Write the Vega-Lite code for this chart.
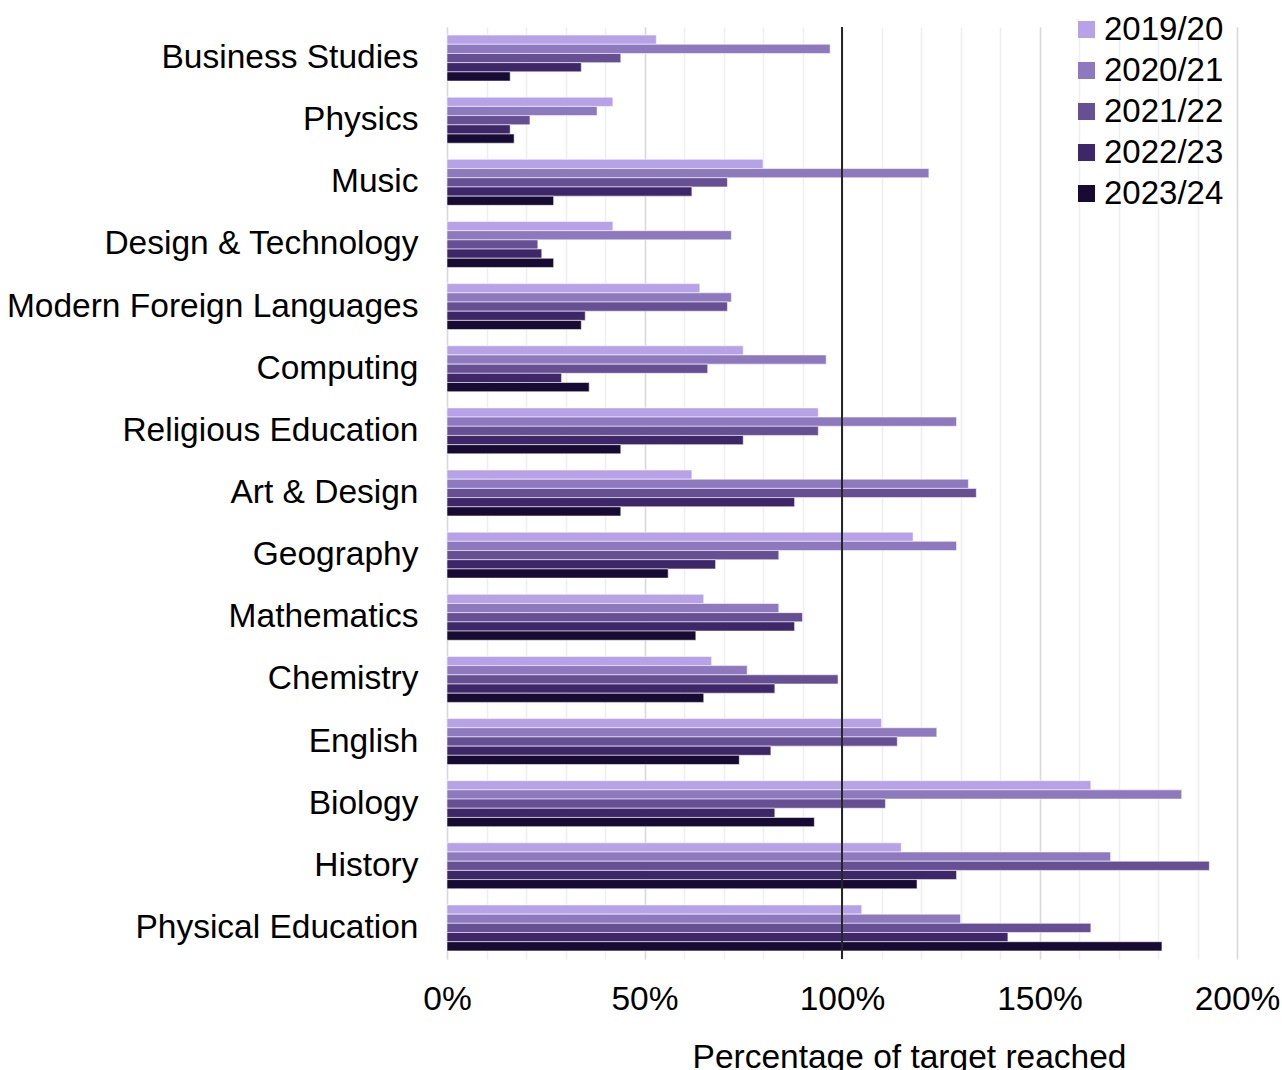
{
  "$schema": "https://vega.github.io/schema/vega-lite/v6.json",
  "autosize": {"type": "none"},
  "width": 790,
  "height": 932,
  "padding": {"left": 447, "top": 27, "right": 45, "bottom": 111},
  "background": "white",
  "config": {
    "font": "Liberation Sans",
    "view": {"stroke": null}
  },
  "data": {
    "values": [
      {"subject": "Business Studies", "year": "2019/20", "pct": 53},
      {"subject": "Business Studies", "year": "2020/21", "pct": 97},
      {"subject": "Business Studies", "year": "2021/22", "pct": 44},
      {"subject": "Business Studies", "year": "2022/23", "pct": 34},
      {"subject": "Business Studies", "year": "2023/24", "pct": 16},
      {"subject": "Physics", "year": "2019/20", "pct": 42},
      {"subject": "Physics", "year": "2020/21", "pct": 38},
      {"subject": "Physics", "year": "2021/22", "pct": 21},
      {"subject": "Physics", "year": "2022/23", "pct": 16},
      {"subject": "Physics", "year": "2023/24", "pct": 17},
      {"subject": "Music", "year": "2019/20", "pct": 80},
      {"subject": "Music", "year": "2020/21", "pct": 122},
      {"subject": "Music", "year": "2021/22", "pct": 71},
      {"subject": "Music", "year": "2022/23", "pct": 62},
      {"subject": "Music", "year": "2023/24", "pct": 27},
      {"subject": "Design & Technology", "year": "2019/20", "pct": 42},
      {"subject": "Design & Technology", "year": "2020/21", "pct": 72},
      {"subject": "Design & Technology", "year": "2021/22", "pct": 23},
      {"subject": "Design & Technology", "year": "2022/23", "pct": 24},
      {"subject": "Design & Technology", "year": "2023/24", "pct": 27},
      {"subject": "Modern Foreign Languages", "year": "2019/20", "pct": 64},
      {"subject": "Modern Foreign Languages", "year": "2020/21", "pct": 72},
      {"subject": "Modern Foreign Languages", "year": "2021/22", "pct": 71},
      {"subject": "Modern Foreign Languages", "year": "2022/23", "pct": 35},
      {"subject": "Modern Foreign Languages", "year": "2023/24", "pct": 34},
      {"subject": "Computing", "year": "2019/20", "pct": 75},
      {"subject": "Computing", "year": "2020/21", "pct": 96},
      {"subject": "Computing", "year": "2021/22", "pct": 66},
      {"subject": "Computing", "year": "2022/23", "pct": 29},
      {"subject": "Computing", "year": "2023/24", "pct": 36},
      {"subject": "Religious Education", "year": "2019/20", "pct": 94},
      {"subject": "Religious Education", "year": "2020/21", "pct": 129},
      {"subject": "Religious Education", "year": "2021/22", "pct": 94},
      {"subject": "Religious Education", "year": "2022/23", "pct": 75},
      {"subject": "Religious Education", "year": "2023/24", "pct": 44},
      {"subject": "Art & Design", "year": "2019/20", "pct": 62},
      {"subject": "Art & Design", "year": "2020/21", "pct": 132},
      {"subject": "Art & Design", "year": "2021/22", "pct": 134},
      {"subject": "Art & Design", "year": "2022/23", "pct": 88},
      {"subject": "Art & Design", "year": "2023/24", "pct": 44},
      {"subject": "Geography", "year": "2019/20", "pct": 118},
      {"subject": "Geography", "year": "2020/21", "pct": 129},
      {"subject": "Geography", "year": "2021/22", "pct": 84},
      {"subject": "Geography", "year": "2022/23", "pct": 68},
      {"subject": "Geography", "year": "2023/24", "pct": 56},
      {"subject": "Mathematics", "year": "2019/20", "pct": 65},
      {"subject": "Mathematics", "year": "2020/21", "pct": 84},
      {"subject": "Mathematics", "year": "2021/22", "pct": 90},
      {"subject": "Mathematics", "year": "2022/23", "pct": 88},
      {"subject": "Mathematics", "year": "2023/24", "pct": 63},
      {"subject": "Chemistry", "year": "2019/20", "pct": 67},
      {"subject": "Chemistry", "year": "2020/21", "pct": 76},
      {"subject": "Chemistry", "year": "2021/22", "pct": 99},
      {"subject": "Chemistry", "year": "2022/23", "pct": 83},
      {"subject": "Chemistry", "year": "2023/24", "pct": 65},
      {"subject": "English", "year": "2019/20", "pct": 110},
      {"subject": "English", "year": "2020/21", "pct": 124},
      {"subject": "English", "year": "2021/22", "pct": 114},
      {"subject": "English", "year": "2022/23", "pct": 82},
      {"subject": "English", "year": "2023/24", "pct": 74},
      {"subject": "Biology", "year": "2019/20", "pct": 163},
      {"subject": "Biology", "year": "2020/21", "pct": 186},
      {"subject": "Biology", "year": "2021/22", "pct": 111},
      {"subject": "Biology", "year": "2022/23", "pct": 83},
      {"subject": "Biology", "year": "2023/24", "pct": 93},
      {"subject": "History", "year": "2019/20", "pct": 115},
      {"subject": "History", "year": "2020/21", "pct": 168},
      {"subject": "History", "year": "2021/22", "pct": 193},
      {"subject": "History", "year": "2022/23", "pct": 129},
      {"subject": "History", "year": "2023/24", "pct": 119},
      {"subject": "Physical Education", "year": "2019/20", "pct": 105},
      {"subject": "Physical Education", "year": "2020/21", "pct": 130},
      {"subject": "Physical Education", "year": "2021/22", "pct": 163},
      {"subject": "Physical Education", "year": "2022/23", "pct": 142},
      {"subject": "Physical Education", "year": "2023/24", "pct": 181}
    ]
  },
  "resolve": {"axis": {"x": "independent"}},
  "layer": [
    {
      "mark": {"type": "rule", "strokeWidth": 0},
      "encoding": {
        "x": {
          "datum": 100,
          "type": "quantitative",
          "axis": {
            "orient": "top",
            "values": [0, 10, 20, 30, 40, 50, 60, 70, 80, 90, 100, 110, 120, 130, 140, 150, 160, 170, 180, 190, 200],
            "labels": false,
            "domain": false,
            "ticks": false,
            "grid": true,
            "gridColor": "#eeeeee",
            "gridWidth": 1.5,
            "title": null
          }
        }
      }
    },
    {
      "mark": {"type": "bar", "stroke": "#ffffff", "strokeWidth": 1, "strokeOpacity": 0.55},
      "encoding": {
        "y": {
          "field": "subject",
          "type": "nominal",
          "sort": null,
          "scale": {"paddingInner": 0.26, "paddingOuter": 0.13},
          "axis": {
            "title": null,
            "domain": false,
            "ticks": false,
            "grid": false,
            "labelFontSize": 33.5,
            "labelColor": "#000000",
            "labelPadding": 29,
            "labelLimit": 0
          }
        },
        "yOffset": {
          "field": "year",
          "type": "nominal",
          "sort": ["2019/20", "2020/21", "2021/22", "2022/23", "2023/24"],
          "scale": {"paddingInner": 0, "paddingOuter": 0}
        },
        "x": {
          "field": "pct",
          "type": "quantitative",
          "scale": {"domain": [0, 200], "nice": false},
          "axis": {
            "orient": "bottom",
            "values": [0, 50, 100, 150, 200],
            "labelExpr": "datum.value + '%'",
            "domain": false,
            "ticks": false,
            "grid": true,
            "gridColor": "#d9d9d9",
            "gridWidth": 1.5,
            "labelFontSize": 33.5,
            "labelColor": "#000000",
            "labelPadding": 24,
            "labelFlush": false,
            "labelOverlap": false,
            "title": "Percentage of target reached",
            "titleFontSize": 33.5,
            "titleFontWeight": "normal",
            "titleColor": "#000000",
            "titleX": 462,
            "titleY": 82,
            "titleAlign": "center",
            "titleBaseline": "top"
          }
        },
        "color": {
          "field": "year",
          "type": "nominal",
          "scale": {
            "domain": ["2019/20", "2020/21", "2021/22", "2022/23", "2023/24"],
            "range": ["#b8a2e7", "#8e79bf", "#674f94", "#3e2768", "#170b33"]
          },
          "legend": {
            "title": null,
            "orient": "none",
            "legendX": 623,
            "legendY": -14,
            "padding": 0,
            "symbolType": "square",
            "symbolSize": 289,
            "symbolStrokeWidth": 0,
            "symbolOpacity": 1,
            "labelFontSize": 33,
            "labelColor": "#000000",
            "labelOffset": 1,
            "rowPadding": 7,
            "labelLimit": 0
          }
        }
      }
    },
    {
      "mark": {"type": "rule", "color": "#262626", "strokeWidth": 2},
      "encoding": {"x": {"datum": 100, "type": "quantitative", "axis": null}}
    }
  ]
}
